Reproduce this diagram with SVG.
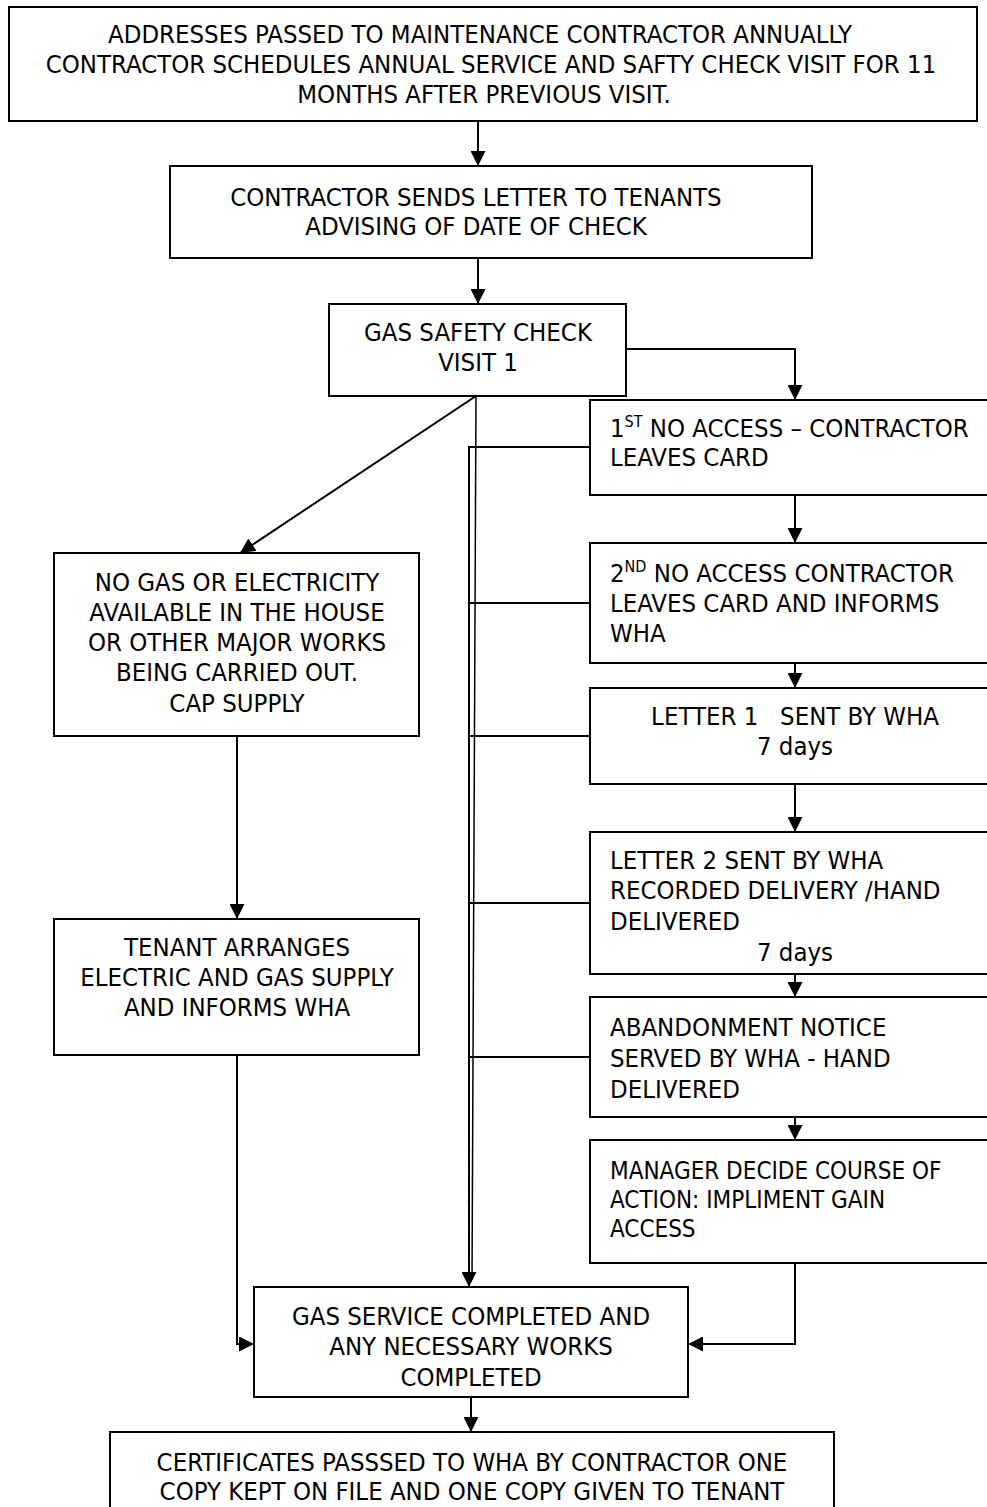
<svg xmlns="http://www.w3.org/2000/svg" width="987" height="1507" viewBox="0 0 987 1507">
<style>
.box{fill:#fff;stroke:#000;stroke-width:2}
.t{font-family:'DejaVu Sans Condensed','DejaVu Sans',sans-serif;font-stretch:condensed;font-size:25.5px;fill:#000}
.s{font-size:24px}
.c{text-anchor:middle}
.ln{fill:none;stroke:#000;stroke-width:2}
.thin{fill:none;stroke:#000;stroke-width:1.5}
.sup{font-size:16px}
</style>
<defs>
<marker id="ah" viewBox="0 0 10 10" refX="10" refY="5" markerWidth="15" markerHeight="15" markerUnits="userSpaceOnUse" orient="auto">
<path d="M0,0 L10,5 L0,10 z" fill="#000"/>
</marker>
</defs>
<g id="connectors">
<path class="ln" d="M478,121 V166" marker-end="url(#ah)"/>
<path class="ln" d="M478,258 V304" marker-end="url(#ah)"/>
<path class="ln" d="M626,349 H795 V400" marker-end="url(#ah)"/>
<path class="ln" d="M795,495 V543" marker-end="url(#ah)"/>
<path class="ln" d="M795,663 V688" marker-end="url(#ah)"/>
<path class="ln" d="M795,784 V832" marker-end="url(#ah)"/>
<path class="ln" d="M795,974 V997" marker-end="url(#ah)"/>
<path class="ln" d="M795,1117 V1140" marker-end="url(#ah)"/>
<path class="ln" d="M476,396 L240,553" marker-end="url(#ah)"/>
<path class="ln" d="M237,736 V919" marker-end="url(#ah)"/>
<path class="ln" d="M237,1055 V1344 H254" marker-end="url(#ah)"/>
<path class="ln" d="M795,1263 V1344 H688" marker-end="url(#ah)"/>
<path class="ln" d="M471,1397 V1432" marker-end="url(#ah)"/>
<path class="thin" d="M476,396 L472,1280"/>
<path class="ln" d="M590,447 H469 V1287" marker-end="url(#ah)"/>
<path class="ln" d="M590,603 H469"/>
<path class="ln" d="M590,736 H469"/>
<path class="ln" d="M590,903 H469"/>
<path class="ln" d="M590,1057 H469"/>
</g>
<g id="n1">
<rect class="box" x="9" y="7" width="968" height="114"/>
<text class="t c" x="480" y="43">ADDRESSES PASSED TO MAINTENANCE CONTRACTOR ANNUALLY</text>
<text class="t c" x="491" y="73">CONTRACTOR SCHEDULES ANNUAL SERVICE AND SAFTY CHECK VISIT FOR 11</text>
<text class="t c" x="484" y="103">MONTHS AFTER PREVIOUS VISIT.</text>
</g>
<g id="n2">
<rect class="box" x="170" y="166" width="642" height="92"/>
<text class="t c" x="476" y="206">CONTRACTOR SENDS LETTER TO TENANTS</text>
<text class="t c" x="476" y="235">ADVISING OF DATE OF CHECK</text>
</g>
<g id="n3">
<rect class="box" x="329" y="304" width="297" height="92"/>
<text class="t c" x="478" y="341">GAS SAFETY CHECK</text>
<text class="t c" x="478" y="371">VISIT 1</text>
</g>
<g id="n4">
<rect class="box" x="590" y="400" width="410" height="95"/>
<text class="t" x="610" y="437">1<tspan class="sup" dy="-10">ST</tspan><tspan dy="10"> NO ACCESS – CONTRACTOR</tspan></text>
<text class="t" x="610" y="466">LEAVES CARD</text>
</g>
<g id="n5">
<rect class="box" x="590" y="543" width="410" height="120"/>
<text class="t" x="610" y="582">2<tspan class="sup" dy="-10">ND</tspan><tspan dy="10"> NO ACCESS CONTRACTOR</tspan></text>
<text class="t" x="610" y="612">LEAVES CARD AND INFORMS</text>
<text class="t" x="610" y="642">WHA</text>
</g>
<g id="n6">
<rect class="box" x="590" y="688" width="410" height="96"/>
<text class="t c" x="795" y="725" xml:space="preserve">LETTER 1   SENT BY WHA</text>
<text class="t c" x="795" y="755">7 days</text>
</g>
<g id="n7">
<rect class="box" x="590" y="832" width="410" height="142"/>
<text class="t" x="610" y="869">LETTER 2 SENT BY WHA</text>
<text class="t" x="610" y="899">RECORDED DELIVERY /HAND</text>
<text class="t" x="610" y="930">DELIVERED</text>
<text class="t c" x="795" y="961">7 days</text>
</g>
<g id="n8">
<rect class="box" x="590" y="997" width="410" height="120"/>
<text class="t" x="610" y="1036">ABANDONMENT NOTICE</text>
<text class="t" x="610" y="1067">SERVED BY WHA - HAND</text>
<text class="t" x="610" y="1098">DELIVERED</text>
</g>
<g id="n9">
<rect class="box" x="590" y="1140" width="410" height="123"/>
<text class="t s" x="610" y="1179">MANAGER DECIDE COURSE OF</text>
<text class="t s" x="610" y="1208">ACTION: IMPLIMENT GAIN</text>
<text class="t s" x="610" y="1237">ACCESS</text>
</g>
<g id="n10">
<rect class="box" x="54" y="553" width="365" height="183"/>
<text class="t c" x="237" y="591">NO GAS OR ELECTRICITY</text>
<text class="t c" x="237" y="621">AVAILABLE IN THE HOUSE</text>
<text class="t c" x="237" y="651">OR OTHER MAJOR WORKS</text>
<text class="t c" x="237" y="681">BEING CARRIED OUT.</text>
<text class="t c" x="237" y="712">CAP SUPPLY</text>
</g>
<g id="n11">
<rect class="box" x="54" y="919" width="365" height="136"/>
<text class="t c" x="237" y="956">TENANT ARRANGES</text>
<text class="t c" x="237" y="986">ELECTRIC AND GAS SUPPLY</text>
<text class="t c" x="237" y="1016">AND INFORMS WHA</text>
</g>
<g id="n12">
<rect class="box" x="254" y="1287" width="434" height="110"/>
<text class="t c" x="471" y="1325">GAS SERVICE COMPLETED AND</text>
<text class="t c" x="471" y="1355">ANY NECESSARY WORKS</text>
<text class="t c" x="471" y="1386">COMPLETED</text>
</g>
<g id="n13">
<rect class="box" x="110" y="1432" width="724" height="80"/>
<text class="t c" x="472" y="1471">CERTIFICATES PASSSED TO WHA BY CONTRACTOR ONE</text>
<text class="t c" x="472" y="1500">COPY KEPT ON FILE AND ONE COPY GIVEN TO TENANT</text>
</g>
</svg>
